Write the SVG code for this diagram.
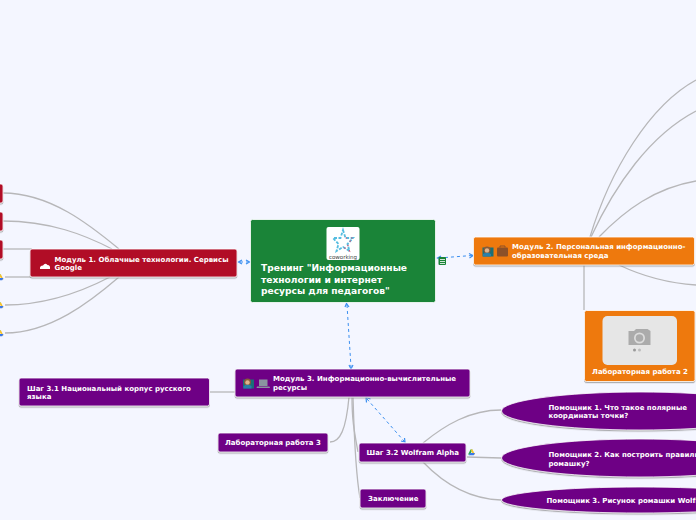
<svg xmlns="http://www.w3.org/2000/svg" width="696" height="520" viewBox="0 0 696 520">
<style>
text{font-family:"DejaVu Sans",sans-serif;font-weight:700;fill:#fff;font-size:7px}
.c{fill:none;stroke:#b7b7b9;stroke-width:1.3}
.d{fill:none;stroke:#3b8ff0;stroke-width:1;stroke-dasharray:3 3}
.a{fill:none;stroke:#3b8ff0;stroke-width:1.2}
.s{stroke:#fff;stroke-width:.8;filter:url(#sh)}
.r{fill:#b10c28}.o{fill:#ee790f}.p{fill:#6e0685}
</style>
<defs>
<filter id="sh" x="-5%" y="-10%" width="110%" height="125%"><feDropShadow dx="0" dy="1.2" stdDeviation=".6" flood-color="#888" flood-opacity=".7"/></filter>
<g id="drive"><path d="M-3.500 2.500L-1 -2.500L1 -2.500L-1.300 2.500Z" fill="#2da94f"/><path d="M-1 -2.500L1 -2.500L3.500 2.500L1.500 2.500Z" fill="#f8c32c"/><path d="M-2.800 3.300L-1.200 1H3.500L2.200 3.300Z" fill="#3b78e7"/></g>
<g id="person"><rect x="-5.500" y="-4" width="11" height="9" fill="#1a6f78"/><circle cx="-1" cy="-1.500" r="3.500" fill="#8a5a38"/><circle cx="-1" cy="-1" r="2.200" fill="#e0b48c"/><path d="M-5 5V2.500Q-1 0 3 2.500V5Z" fill="#2b7fa8"/></g>
</defs>
<rect width="696" height="520" fill="#f4f6ff"/>
<g id="connectors">
<path class="c" d="M3 193C50 193 90 225 119 249"/>
<path class="c" d="M3 221C50 221 85 235 112 249"/>
<path class="c" d="M3 249H32"/>
<path class="c" d="M5 277H32"/>
<path class="c" d="M5 305C50 305 85 290 110 277"/>
<path class="c" d="M5 333C50 333 90 302 119 277"/>
<path class="c" d="M590 237C610 170 650 105 696 80"/>
<path class="c" d="M591 237C615 185 650 135 696 111"/>
<path class="c" d="M599 237C625 210 655 188 696 181"/>
<path class="c" d="M619 265C640 275 665 283 696 285"/>
<path class="c" d="M584 265V310"/>
<path class="c" d="M210 392H235"/>
<path class="c" d="M330 442C340 442 346 430 349 397"/>
<path class="c" d="M352 397C352 420 354 430 358 452"/>
<path class="c" d="M353 397C354 430 355 470 360 498"/>
<path class="c" d="M423 443C445 425 470 410 501 410"/>
<path class="c" d="M467 457L501 458"/>
<path class="c" d="M423 462C445 485 470 499 501 500"/>
<path class="d" d="M240 262H248"/>
<path class="a" d="M242 260L238.500 262L242 264M246 260L249.500 262L246 264"/>
<path class="d" d="M439 258L472 255.500"/>
<path class="a" d="M441 256L437.500 258L441 260M469 253.500L473 255.500L469.500 258"/>
<path class="d" d="M347 305L351 367"/>
<path class="a" d="M345 307L346.500 303.500L349 307M349 365L351 369L353 365"/>
<path class="d" d="M367 399L404 441"/>
<path class="a" d="M366.500 402.500L366 397.500L370.500 399M401 441L405 442L404.500 438"/>
</g>
<g id="node-central"><rect x="250.500" y="219.500" width="185" height="83" rx="2" fill="#1a8438" stroke="#fff" stroke-width=".8"/>
<rect x="326.500" y="227" width="33" height="33" rx="2" fill="#fff"/>
<path d="M343 230L345.500 238L353 238L347.500 244L349.500 251L343 247L336.500 251L338.500 244L333 238L340.500 238Z" fill="none" stroke="#55bde0" stroke-width="1.800" stroke-dasharray="3 1.500"/>
<path d="M345.500 238L353 238L347.500 244L349.500 251L343 247" fill="none" stroke="#d0507a" stroke-width="1.200" stroke-dasharray="1.500 4"/>
<text x="343" y="258.500" text-anchor="middle" style="font-size:5.500px;font-weight:400;fill:#444">coworking</text>
<text x="261" y="271" style="font-size:9.100px">Тренинг "Информационные</text>
<text x="261" y="282.500" style="font-size:9.100px">технологии и интернет</text>
<text x="261" y="294" style="font-size:9.100px">ресурсы для педагогов"</text></g>
<g id="icon-notes"><rect x="438.500" y="257" width="7.500" height="8" rx="1" fill="#1a8438"/><path d="M440 259.500H445M440 261.500H445M440 263.500H445" stroke="#fff" stroke-width=".8"/></g>
<g id="node-m1"><rect class="s r" x="30" y="249" width="207" height="28" rx="2"/>
<path d="M40 269Q39.500 265.500 43 265.500Q45 262.500 47.500 265Q50.500 265 50 269Z" fill="#fff"/>
<text x="54.500" y="261.500">Модуль 1. Облачные технологии. Сервисы</text><text x="54.500" y="270">Google</text></g>
<g id="node-s1"><rect class="s r" x="-10" y="184" width="13" height="19" rx="2"/></g>
<g id="node-s2"><rect class="s r" x="-10" y="212" width="13" height="19" rx="2"/></g>
<g id="node-s3"><rect class="s r" x="-10" y="240" width="13" height="19" rx="2"/></g>
<use href="#drive" x="0" y="277"/><use href="#drive" x="0" y="305"/><use href="#drive" x="0" y="333"/>
<g id="node-m2"><rect class="s o" x="473.500" y="237" width="221" height="28" rx="2"/>
<use href="#person" x="488" y="251.500"/>
<rect x="497" y="247.500" width="11" height="9" rx="1" fill="#8c5028"/><path d="M500 247.500V246H505V247.500" fill="none" stroke="#8c5028"/>
<text x="512" y="249">Модуль 2. Персональная информационно-</text><text x="512" y="258">образовательная среда</text></g>
<g id="node-lab2"><rect class="s o" x="584.500" y="310.500" width="110.500" height="71" rx="2"/>
<rect x="602.500" y="316" width="74.500" height="49" rx="5" fill="#e6e6e6"/>
<path d="M628.500 331H634L636 329H647.500L650.500 331V345H628.500Z" fill="#ababab"/><circle cx="639.500" cy="338" r="5.500" fill="#ddd"/><circle cx="639.500" cy="338" r="3.800" fill="#ababab"/>
<circle cx="634.500" cy="350" r="1.500" fill="#9a9a9a"/><circle cx="639.500" cy="350" r="1.500" fill="#bdbdbd"/>
<text x="640" y="374" text-anchor="middle">Лабораторная работа 2</text></g>
<g id="node-m3"><rect class="s p" x="235" y="369" width="235" height="28" rx="2"/>
<use href="#person" x="248.500" y="383.500"/>
<path d="M259 379.500H267.500V386H259ZM257 386.500H269.500L270 388H256.500Z" fill="#8a94a0"/>
<text x="273" y="381">Модуль 3. Информационно-вычислительные</text><text x="273" y="390">ресурсы</text></g>
<g id="node-s31"><rect class="s p" x="19" y="378" width="190.500" height="28" rx="2"/>
<text x="27" y="391">Шаг 3.1 Национальный корпус русского</text><text x="27" y="399">языка</text></g>
<g id="node-lab3"><rect class="s p" x="218" y="433" width="110" height="19" rx="2"/><text x="225" y="445">Лабораторная работа 3</text></g>
<g id="node-s32"><rect class="s p" x="359" y="443" width="107" height="19" rx="2"/><text x="366.500" y="455">Шаг 3.2 Wolfram Alpha</text></g>
<use href="#drive" x="471.500" y="452"/>
<g id="node-end"><rect class="s p" x="360" y="489" width="66" height="19" rx="2"/><text x="368" y="501">Заключение</text></g>
<g id="node-h1"><ellipse class="s p" cx="640" cy="411" rx="138.500" ry="19"/><text x="548.500" y="409.500">Помощник 1. Что такое полярные</text><text x="548.500" y="417.500">координаты точки?</text></g>
<g id="node-h2"><ellipse class="s p" cx="640" cy="458" rx="138.500" ry="19"/><text x="548.500" y="456.500">Помощник 2. Как построить правильную</text><text x="548.500" y="465.500">ромашку?</text></g>
<g id="node-h3"><ellipse class="s p" cx="640" cy="500" rx="138.500" ry="13"/><text x="546.500" y="503">Помощник 3. Рисунок ромашки Wolfram Alpha</text></g>
</svg>
